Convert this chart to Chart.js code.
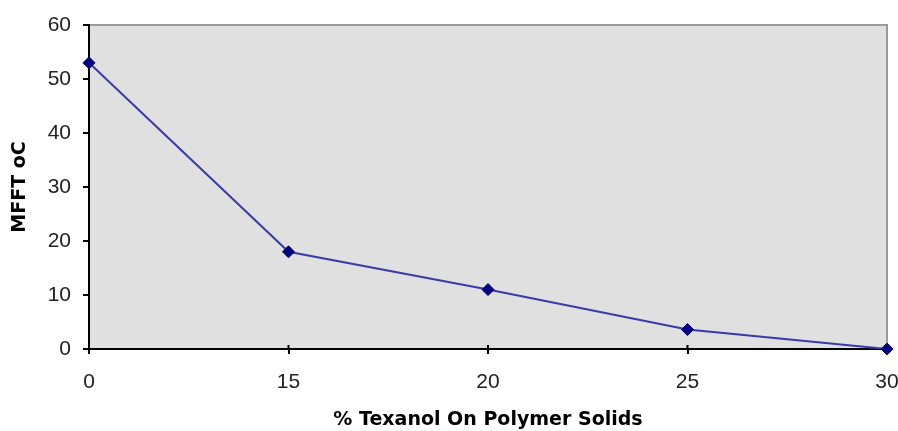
<!DOCTYPE html>
<html>
<head>
<meta charset="utf-8">
<script src="https://cdn.jsdelivr.net/npm/chart.js@4.4.1/dist/chart.umd.min.js"></script>
<style>
    html, body { margin: 0; padding: 0; background: #ffffff; }
    #wrap { width: 898px; height: 431px; }
</style>
</head>
<body>
<div id="wrap"><canvas id="mfftChart"></canvas></div>
<script>
const texanolLevels = ["0", "15", "20", "25", "30"];
const mfftValues = [53, 18, 11, 3.6, 0];
const yTicks = [0, 10, 20, 30, 40, 50, 60];

const xTitle = "% Texanol On Polymer Solids";
const yTitle = "MFFT oC";

// grey plot area + thin border, plus the small inside tick marks on x
const plotArea = {
    id: "plotArea",
    beforeDraw(chart) {
        const { ctx, chartArea: a } = chart;
        ctx.save();
        ctx.fillStyle = "#e0e0e0";
        ctx.fillRect(a.left, a.top, a.right - a.left, a.bottom - a.top);
        ctx.strokeStyle = "#9a9a9a";
        ctx.lineWidth = 2;
        ctx.beginPath();
        ctx.moveTo(a.left, a.top);
        ctx.lineTo(a.right, a.top);
        ctx.lineTo(a.right, a.bottom);
        ctx.stroke();
        ctx.restore();
    },
    beforeDatasetsDraw(chart) {
        const { ctx, chartArea: a } = chart;
        const x = chart.scales.x;
        ctx.save();
        ctx.strokeStyle = "#000";
        ctx.lineWidth = 2;
        for (let i = 1; i < texanolLevels.length - 1; i++) {
            const px = x.getPixelForTick(i);
            ctx.beginPath();
            ctx.moveTo(px, a.bottom - 4);
            ctx.lineTo(px, a.bottom);
            ctx.stroke();
        }
        ctx.restore();
    }
};

new Chart(document.getElementById("mfftChart"), {
    type: "line",
    data: {
        labels: texanolLevels,
        datasets: [{
            data: mfftValues,
            borderColor: "#3a3aa8",
            borderWidth: 2,
            pointStyle: "rectRot",
            pointRadius: 6,
            pointBackgroundColor: "#000080",
            pointBorderColor: "#000080",
            pointBorderWidth: 1,
            tension: 0,
            clip: false
        }]
    },
    options: {
        responsive: true,
        maintainAspectRatio: false,
        animation: false,
        layout: { padding: { top: 25, right: 11, left: 0, bottom: 0 } },
        plugins: {
            legend: { display: false },
            tooltip: { enabled: false }
        },
        scales: {
            x: {
                offset: false,
                afterFit: s => {
                    s.height = 82;
                    s.paddingLeft = 0;
                    s.paddingRight = 0;
                },
                border: { color: "#000", width: 2 },
                grid: { drawOnChartArea: false, drawTicks: true, tickLength: 5, color: "#000", lineWidth: 2 },
                ticks: {
                    color: "#222",
                    padding: 16,
                    maxRotation: 0,
                    font: { family: "Liberation Sans", size: 21 }
                },
                title: {
                    display: true,
                    text: xTitle,
                    color: "#000",
                    padding: { top: 0, bottom: 0 },
                    font: { family: "DejaVu Sans", size: 19, weight: "bold" }
                }
            },
            y: {
                min: 0,
                max: 60,
                afterFit: s => {
                    s.width = 89;
                    s.paddingTop = 0;
                    s.paddingBottom = 0;
                },
                afterBuildTicks: s => { s.ticks = yTicks.map(v => ({ value: v })); },
                border: { color: "#000", width: 2 },
                grid: { drawOnChartArea: false, drawTicks: true, tickLength: 6, color: "#000", lineWidth: 2 },
                ticks: {
                    color: "#222",
                    padding: 12,
                    font: { family: "Liberation Sans", size: 21 }
                },
                title: {
                    display: true,
                    text: yTitle,
                    color: "#000",
                    padding: { top: 9, bottom: 0 },
                    font: { family: "DejaVu Sans", size: 19, weight: "bold" }
                }
            }
        }
    },
    plugins: [plotArea]
});
</script>
</body>
</html>
